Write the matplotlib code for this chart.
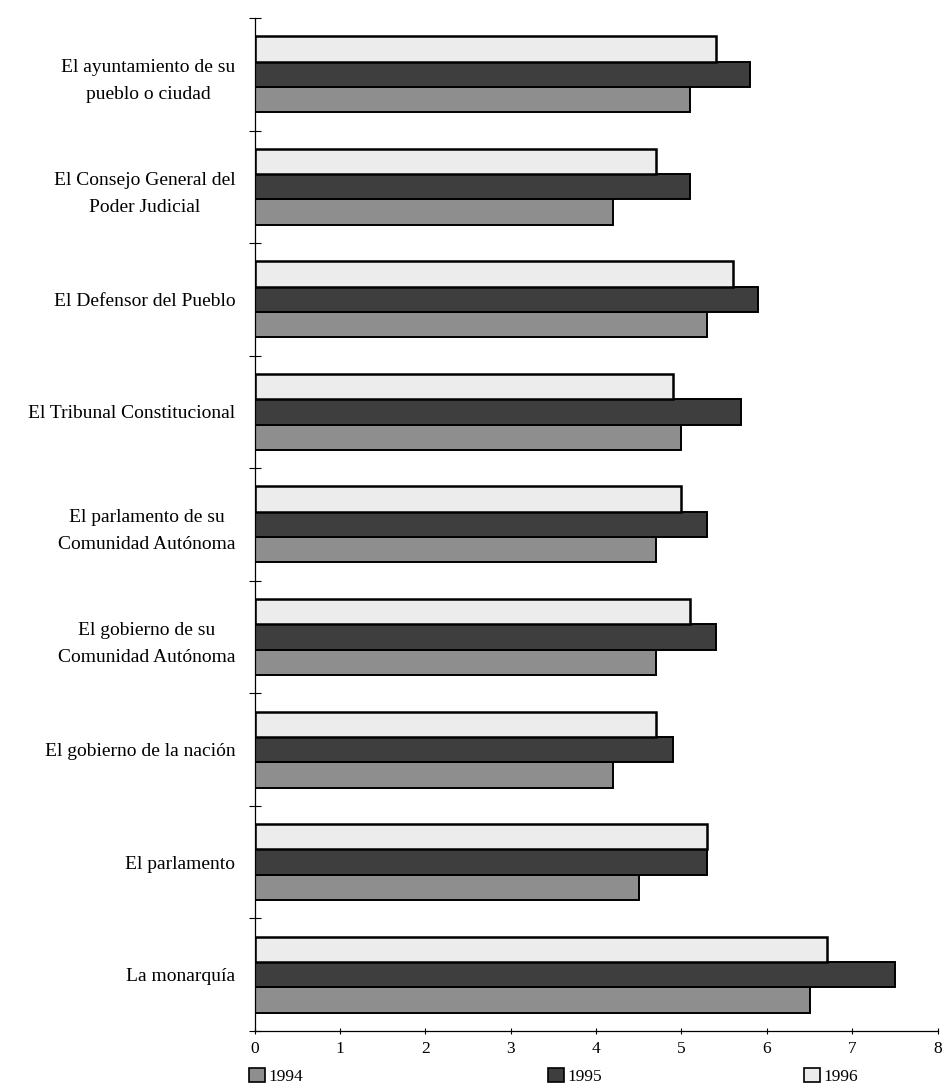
import numpy as np
import matplotlib.pyplot as plt
from matplotlib.patches import Patch

plt.rcParams['font.family'] = ['Liberation Serif', 'DejaVu Serif']

# categories from top to bottom
categories = [
    'El ayuntamiento de su\npueblo o ciudad',
    'El Consejo General del\nPoder Judicial',
    'El Defensor del Pueblo',
    'El Tribunal Constitucional',
    'El parlamento de su\nComunidad Autónoma',
    'El gobierno de su\nComunidad Autónoma',
    'El gobierno de la nación',
    'El parlamento',
    'La monarquía',
]
years = ['1994', '1995', '1996']
v1994 = [5.1, 4.2, 5.3, 5.0, 4.7, 4.7, 4.2, 4.5, 6.5]
v1995 = [5.8, 5.1, 5.9, 5.7, 5.3, 5.4, 4.9, 5.3, 7.5]
v1996 = [5.4, 4.7, 5.6, 4.9, 5.0, 5.1, 4.7, 5.3, 6.7]
xticks = [0, 1, 2, 3, 4, 5, 6, 7, 8]

colors = ['#8e8e8e', '#3e3e3e', '#ececec']

fig = plt.figure(figsize=(9.47, 10.89), dpi=100)
ax = fig.add_axes([0.269, 0.0533, 0.721, 0.9302])

y = np.arange(len(categories))[::-1]
h = 0.225
ax.barh(y - h, v1994, height=h, color=colors[0], edgecolor='black', linewidth=1.4)
ax.barh(y, v1995, height=h, color=colors[1], edgecolor='black', linewidth=1.4)
ax.barh(y + h, v1996, height=h, color=colors[2], edgecolor='black', linewidth=1.8)

ax.set_xlim(0, 8)
ax.set_ylim(-0.5, len(categories) - 0.5)
ax.set_xticks(xticks)
ax.set_xticklabels([str(t) for t in xticks], fontsize=12.5)
ax.set_yticks(y)
ax.set_yticklabels(categories, fontsize=14, linespacing=1.75)
for t in ax.get_yticklabels():
    t.set_multialignment('center')
ax.set_yticks(np.arange(len(categories) + 1) - 0.5, minor=True)
ax.tick_params(axis='y', which='major', length=0, pad=14)
ax.tick_params(axis='y', which='minor', length=9, direction='inout', width=0.8)
ax.tick_params(axis='x', length=5, direction='inout', width=0.8, pad=5)

for s in ['top', 'right']:
    ax.spines[s].set_visible(False)
ax.spines['left'].set_linewidth(0.9)
ax.spines['bottom'].set_linewidth(0.9)

# legend entries spread under the axis
legend_x = [0.252, 0.568, 0.838]
for yr, c, lx in zip(years, colors, legend_x):
    fig.legend(handles=[Patch(facecolor=c, edgecolor='black', linewidth=1.2)],
               labels=[yr], loc='lower left', bbox_to_anchor=(lx, -0.006),
               frameon=False, fontsize=12.5, handlelength=0.9, handleheight=0.9,
               handletextpad=0.2, borderpad=0.1)

fig.savefig('out.png', dpi=100)
